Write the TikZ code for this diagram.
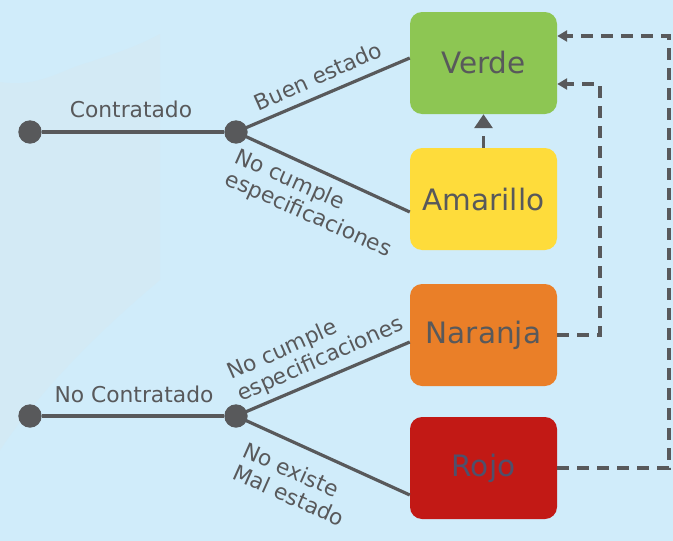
\documentclass[tikz,border=0pt]{standalone}
\usepackage{fontspec}
\setmainfont{DejaVu Sans}
\usetikzlibrary{arrows.meta,calc}
\definecolor{bgc}{HTML}{D0ECFA}
\definecolor{txc}{HTML}{58595B}
\definecolor{verdec}{HTML}{8DC653}
\definecolor{amac}{HTML}{FEDC3B}
\definecolor{narc}{HTML}{EA7F28}
\definecolor{rojc}{HTML}{C21915}
\definecolor{fadec}{HTML}{D3EAF5}
\tikzset{
  box/.style={rectangle, rounded corners=12pt, minimum width=147pt, minimum height=102pt,
    inner sep=0pt, text=txc, font=\fontsize{29.5}{34}\selectfont},
  dot/.style={circle, fill=txc, minimum size=23.4pt, inner sep=0pt},
  link/.style={draw=txc, line width=3.2pt},
  lbl/.style={text=txc, font=\fontsize{21.8}{24}\selectfont, inner sep=0pt, align=left},
  dashlink/.style={draw=txc, line width=3.2pt, dash pattern=on 12pt off 8pt},
}
\begin{document}
\begin{tikzpicture}[x=1pt,y=-1pt]
\useasboundingbox (0,0) rectangle (673,541);
\fill[bgc] (0,0) rectangle (673,541);
\fill[fadec] (0,82) .. controls (40,88) and (60,70) .. (90,62) .. controls (120,52) and (140,45) .. (160,34)
  -- (160,280) .. controls (100,330) and (40,390) .. (0,450) -- cycle;

\node[box, fill=verdec] (verde) at (483.5,63) {Verde};
\node[box, fill=amac] (amarillo) at (483.5,199) {Amarillo};
\node[box, fill=narc] (naranja) at (483.5,335) {Naranja};
\node[box, fill=rojc, text=txc!90!blue] (rojo) at (483.5,468) {Rojo};

\node[dot] (a1) at (30,132) {};
\node[dot] (a2) at (236,132) {};
\node[dot] (b1) at (30,416) {};
\node[dot] (b2) at (236,416) {};

\draw[link] (a1) -- (a2);
\draw[link] (b1) -- (b2);
\draw[link] (a2.center) -- ($(verde.west)+(0,-5)$);
\draw[link] (a2.center) -- ($(amarillo.west)+(0,13)$);
\draw[link] (b2.center) -- ($(naranja.west)+(0,7)$);
\draw[link] (b2.center) -- ($(rojo.west)+(0,27)$);

\node[lbl] (l1) at (131,109) {Contratado};
\node[lbl] (l2) at (134,394) {No Contratado};
\node[lbl, rotate=24] (l3) at (318,76) {Buen estado};
\node[lbl, rotate=-24] (l4) at (313,204) {No cumple\\especificaciones};
\node[lbl, rotate=24] (l5) at (316,349) {No cumple\\especificaciones};
\node[lbl, rotate=-24] (l6) at (294,484) {No existe\\Mal estado};

\coordinate (c1) at (669,36);
\coordinate (c2) at (600,84);
\draw[dashlink, -{Triangle[length=10pt,width=11pt]}] (rojo.east) -| (c1) |- ($(verde.east)+(0,-27)$);
\draw[dashlink, -{Triangle[length=10pt,width=11pt]}] (naranja.east) -| (c2) |- ($(verde.east)+(0,21)$);
\draw[dashlink, -{Triangle[length=14pt,width=18pt]}] (amarillo.north) -- (verde.south);
\end{tikzpicture}
\end{document}
